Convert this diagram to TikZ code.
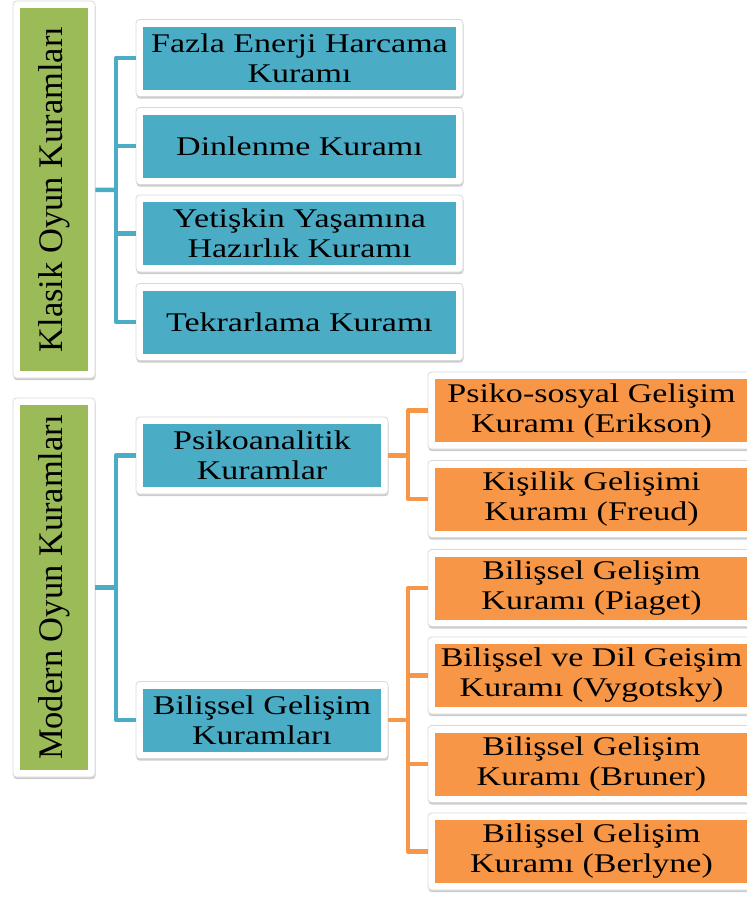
\documentclass[tikz,border=0pt]{standalone}
\usepackage{fontspec}
\setmainfont{Liberation Serif}
\newfontfamily\cardfont{Liberation Serif}[FakeStretch=1.26]
\usetikzlibrary{shadows}
\definecolor{cardblue}{HTML}{4BACC6}
\definecolor{cardgreen}{HTML}{9BBB59}
\definecolor{cardorange}{HTML}{F79646}
\definecolor{frameline}{HTML}{D9D9D9}

% a card: white rounded frame with a coloured face holding the text
% #1 name, #2 x, #3 y, #4 frame width, #5 face colour, #6 text
\newcommand{\mycard}[6]{%
  \node[frame, minimum width=#4] (#1) at (#2,#3) {};
  \node[face, fill=#5, minimum width=#4-14] (#1-in) at (#1.center) {#6};
}

\begin{document}
\begin{tikzpicture}[x=1pt, y=-1pt,
  frame/.style={draw=frameline, line width=0.8pt, fill=white,
    rounded corners=3.5pt, inner sep=0pt, minimum height=77pt,
    drop shadow={shadow xshift=0.5pt, shadow yshift=-2.2pt,
      opacity=0.28, fill=black!70}},
  face/.style={inner sep=0pt, minimum height=63pt, align=center,
    font=\cardfont\fontsize{27}{30}\selectfont, text=black},
  sideface/.style={inner sep=0pt, rotate=90, minimum height=68pt,
    fill=cardgreen, font=\fontsize{34.5}{36}\selectfont, text=black},
  bluelink/.style={draw=cardblue, line width=4.5pt, line join=round},
  orangelink/.style={draw=cardorange, line width=4.5pt, line join=round}]

\useasboundingbox (0,0) rectangle (747,898);

% left column: the two families of theories
\node[frame, minimum width=82pt, minimum height=377pt] (klasik) at (54,189.5) {};
\node[sideface, minimum width=363pt] (klasik-in) at (klasik.center)
  {Klasik Oyun Kuramları};
\node[frame, minimum width=82pt, minimum height=379pt] (modern) at (54,587.5) {};
\node[sideface, minimum width=365pt] (modern-in) at (modern.center)
  {Modern Oyun Kuramları};

% classical theories
\mycard{fazla}{299.5}{58}{327}{cardblue}{Fazla Enerji Harcama\\Kuramı}
\mycard{dinlenme}{299.5}{146}{327}{cardblue}{Dinlenme Kuramı}
\mycard{yetiskin}{299.5}{233.5}{327}{cardblue}{Yetişkin Yaşamına\\Hazırlık Kuramı}
\mycard{tekrar}{299.5}{322}{327}{cardblue}{Tekrarlama Kuramı}

% modern theories
\mycard{psiko}{262}{455.5}{252}{cardblue}{Psikoanalitik\\Kuramlar}
\mycard{bilissel}{262}{720}{252}{cardblue}{Bilişsel Gelişim\\Kuramları}

% individual modern theories
\mycard{erikson}{591.5}{410.5}{327}{cardorange}{Psiko-sosyal Gelişim\\Kuramı (Erikson)}
\mycard{freud}{591.5}{499}{327}{cardorange}{Kişilik Gelişimi\\Kuramı (Freud)}
\mycard{piaget}{591.5}{588}{327}{cardorange}{Bilişsel Gelişim\\Kuramı (Piaget)}
\mycard{vygotsky}{591.5}{675.5}{327}{cardorange}{Bilişsel ve Dil Geişim\\Kuramı (Vygotsky)}
\mycard{bruner}{591.5}{764}{327}{cardorange}{Bilişsel Gelişim\\Kuramı (Bruner)}
\mycard{berlyne}{591.5}{851.5}{327}{cardorange}{Bilişsel Gelişim\\Kuramı (Berlyne)}

% branch points
\coordinate (j1) at (116,190);
\coordinate (j2) at (116,587.5);
\coordinate (j3) at (408,455.5);
\coordinate (j4) at (408,720);

% connectors
\draw[bluelink] (klasik) -- (j1);
\draw[bluelink] (fazla.west) -| (j1);
\draw[bluelink] (tekrar.west) -| (j1);
\draw[bluelink] (dinlenme.west) -- (dinlenme.west -| j1);
\draw[bluelink] (yetiskin.west) -- (yetiskin.west -| j1);

\draw[bluelink] (modern) -- (j2);
\draw[bluelink] (psiko.west) -| (j2);
\draw[bluelink] (bilissel.west) -| (j2);

\draw[orangelink] (psiko) -- (j3);
\draw[orangelink] (erikson.west) -| (j3);
\draw[orangelink] (freud.west) -| (j3);

\draw[orangelink] (bilissel) -- (j4);
\draw[orangelink] (piaget.west) -| (j4);
\draw[orangelink] (berlyne.west) -| (j4);
\draw[orangelink] (vygotsky.west) -- (vygotsky.west -| j4);
\draw[orangelink] (bruner.west) -- (bruner.west -| j4);
\end{tikzpicture}
\end{document}
